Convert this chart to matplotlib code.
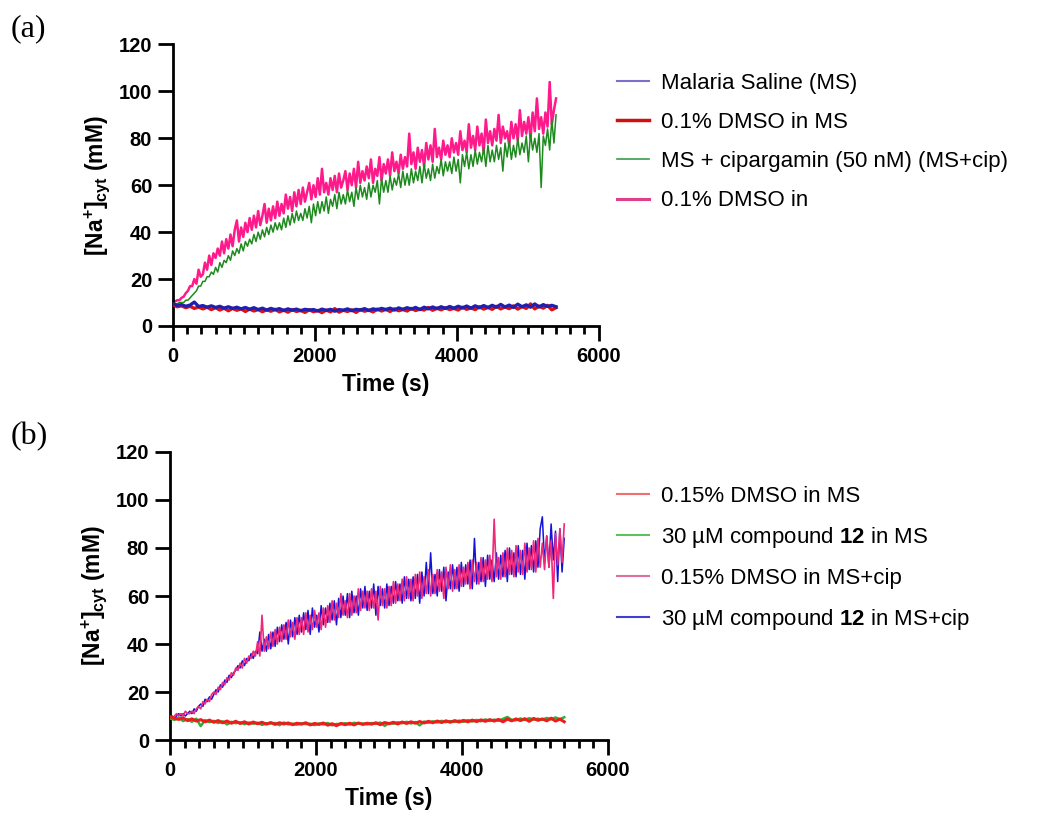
import numpy as np
import matplotlib
matplotlib.use("Agg")
import matplotlib.pyplot as plt
from matplotlib.ticker import MultipleLocator

plt.rcParams['font.family'] = ['Liberation Sans', 'DejaVu Sans']
plt.rcParams['mathtext.fontset'] = 'custom'
plt.rcParams['mathtext.rm'] = 'Liberation Sans'
plt.rcParams['mathtext.bf'] = 'Liberation Sans:bold'
plt.rcParams['mathtext.it'] = 'Liberation Sans:italic'

# sampling grids of the traces (s)
t_fine = np.arange(0, 5401, 30)     # rising traces
t_coarse = np.arange(0, 5401, 60)   # baseline traces

# ---- panel (a) ----
a_ms = [9.5, 8.8, 9.1, 8.4, 8.9, 10.2, 8.3, 8.7, 8.0, 8.6,
        7.9, 8.4, 7.6, 8.2, 7.5, 8.0, 7.3, 7.9, 7.1, 7.8,
        7.0, 7.6, 6.8, 7.5, 6.9, 7.4, 6.6, 7.3, 6.7, 7.2,
        6.5, 7.1, 6.8, 7.0, 6.4, 7.2, 6.6, 7.1, 6.3, 7.0,
        6.7, 7.3, 6.5, 7.1, 6.8, 7.4, 6.6, 7.3, 6.9, 7.5,
        7.0, 7.6, 6.8, 7.7, 7.1, 7.8, 7.2, 7.9, 7.0, 8.0,
        7.3, 8.1, 7.4, 8.2, 7.5, 8.3, 7.6, 8.4, 7.7, 8.5,
        7.6, 8.6, 7.8, 8.7, 7.9, 8.8, 8.0, 9.2, 8.1, 8.9,
        7.9, 9.3, 8.2, 9.0, 8.0, 9.4, 8.1, 9.1, 8.3, 8.8,
        8.2]
a_dmso = [9.0, 8.2, 8.6, 7.8, 8.4, 7.5, 8.1, 7.3, 8.0, 7.0,
          7.8, 6.8, 7.6, 6.5, 7.5, 6.7, 7.3, 6.2, 7.2, 6.4,
          7.0, 6.1, 6.9, 6.3, 7.1, 6.0, 6.8, 5.9, 7.0, 6.2,
          6.7, 5.8, 6.9, 6.1, 6.6, 5.7, 6.8, 6.0, 7.4, 5.9,
          6.7, 6.2, 6.9, 5.8, 7.0, 6.3, 6.8, 6.0, 7.2, 6.4,
          7.1, 6.2, 7.3, 6.5, 7.0, 6.4, 7.5, 6.6, 7.2, 6.8,
          7.9, 6.7, 7.6, 6.9, 7.8, 7.0, 7.5, 6.8, 8.0, 7.1,
          7.7, 7.0, 8.2, 7.2, 7.9, 7.1, 8.4, 7.3, 8.1, 7.4,
          8.6, 7.2, 8.3, 7.5, 9.4, 7.3, 8.5, 7.6, 8.8, 6.9,
          7.8]
a_cip = [9, 9, 9.5, 10, 10, 10, 11, 11, 12, 13,
         14, 15, 17, 17, 19, 19, 21, 21, 23, 22,
         25, 23, 27, 25, 28, 27, 30, 28, 32, 30,
         33, 31, 35, 32, 36, 34, 37, 35, 39, 36,
         40, 37, 41, 38, 42, 39, 43, 40, 44, 41,
         44, 41, 46, 42, 47, 43, 48, 44, 49, 45,
         48, 45, 50, 46, 51, 44, 52, 47, 53, 48,
         53, 49, 55, 48, 54, 51, 56, 50, 57, 52,
         56, 52, 58, 53, 57, 51, 59, 54, 60, 55,
         59, 54, 61, 55, 60, 57, 62, 52, 63, 57,
         62, 57, 64, 58, 63, 60, 65, 59, 66, 60,
         65, 60, 67, 61, 66, 62, 68, 61, 69, 63,
         67, 62, 69, 63, 68, 65, 71, 64, 70, 66,
         70, 65, 72, 66, 71, 61, 73, 68, 74, 67,
         73, 68, 75, 69, 74, 70, 76, 68, 77, 70,
         75, 70, 77, 71, 76, 66, 78, 72, 79, 71,
         77, 72, 80, 73, 78, 74, 81, 70, 82, 75,
         80, 74, 82, 59, 81, 77, 84, 75, 88, 78,
         90]
a_dmso_cip = [10, 10.5, 11, 11, 12, 12.5, 14, 15, 17, 17,
              20, 18, 24, 21, 22, 27, 24, 30, 26, 31,
              29, 33, 30, 36, 31, 37, 33, 39, 34, 41,
              45, 36, 42, 38, 44, 40, 46, 41, 47, 42,
              49, 43, 47, 52, 44, 50, 45, 51, 46, 53,
              47, 52, 48, 56, 50, 55, 49, 57, 51, 58,
              52, 59, 53, 57, 61, 54, 60, 55, 63, 56,
              67, 57, 61, 56, 63, 58, 64, 57, 65, 59,
              62, 66, 58, 65, 60, 67, 59, 70, 61, 66,
              62, 68, 63, 71, 61, 67, 64, 72, 62, 69,
              65, 71, 64, 74, 66, 70, 65, 73, 67, 72,
              68, 82, 69, 74, 67, 76, 70, 75, 68, 78,
              71, 77, 70, 84, 72, 76, 71, 79, 73, 77,
              72, 80, 74, 78, 73, 83, 75, 79, 74, 86,
              76, 81, 75, 85, 77, 82, 74, 88, 78, 83,
              77, 84, 79, 90, 78, 85, 80, 83, 77, 87,
              80, 86, 79, 92, 81, 87, 82, 89, 80, 91,
              83, 97, 84, 89, 82, 91, 85, 104, 86, 92,
              97]

# ---- panel (b) ----
b_dmso = [9.8, 9.0, 8.6, 9.2, 8.1, 8.8, 7.9, 8.5, 7.6, 8.3,
          7.4, 8.1, 7.2, 7.9, 7.0, 7.8, 6.9, 7.6, 6.7, 7.5,
          6.8, 7.4, 6.6, 7.3, 6.5, 7.2, 6.7, 7.1, 6.4, 7.0,
          6.6, 7.2, 6.3, 6.9, 6.5, 7.1, 6.2, 6.8, 6.0, 6.9,
          6.4, 7.0, 6.3, 7.1, 6.5, 7.0, 6.6, 7.2, 6.4, 7.3,
          6.8, 7.4, 6.7, 7.5, 6.9, 7.6, 7.0, 7.7, 7.1, 7.8,
          7.2, 7.9, 7.3, 8.0, 7.4, 8.1, 7.5, 8.2, 7.6, 8.3,
          7.7, 8.4, 7.8, 8.5, 7.9, 8.6, 7.6, 8.7, 8.0, 8.8,
          8.1, 8.9, 7.8, 9.0, 8.2, 8.8, 8.0, 9.1, 7.9, 8.7,
          7.6]
b_cpd12 = [9.0, 8.4, 9.3, 7.9, 8.7, 7.6, 8.9, 5.8, 8.3, 7.4,
           8.0, 7.1, 7.8, 6.5, 7.6, 7.0, 7.4, 6.6, 7.3, 6.8,
           7.2, 6.3, 7.0, 6.9, 7.1, 6.2, 7.3, 6.5, 6.8, 6.4,
           7.0, 6.6, 6.8, 6.2, 6.9, 6.5, 7.1, 6.1, 6.7, 6.6,
           7.0, 6.4, 7.2, 6.8, 6.9, 6.5, 7.1, 6.7, 7.3, 5.9,
           7.1, 6.8, 7.4, 7.0, 7.6, 6.9, 7.5, 6.1, 7.7, 7.2,
           7.8, 7.3, 8.0, 7.4, 7.9, 7.5, 8.1, 7.6, 8.3, 7.7,
           8.4, 7.8, 8.6, 7.9, 8.5, 8.0, 8.8, 9.6, 8.4, 8.2,
           9.0, 8.3, 9.1, 8.5, 8.9, 8.4, 9.2, 8.6, 9.4, 8.7,
           9.5]
b_dmso_cip = [10, 9, 10, 11, 10, 11, 10, 12, 11, 11,
              12, 11, 13, 14, 13, 16, 15, 17, 16, 19,
              20, 19, 22, 21, 24, 23, 26, 25, 28, 27,
              30, 29, 32, 30, 34, 32, 35, 34, 37, 35,
              41, 35, 52, 37, 43, 38, 45, 39, 46, 40,
              47, 41, 48, 42, 50, 43, 49, 42, 51, 44,
              51, 44, 53, 45, 52, 46, 54, 47, 53, 46,
              55, 47, 56, 49, 58, 50, 57, 51, 61, 52,
              58, 51, 61, 52, 60, 53, 63, 54, 62, 55,
              62, 54, 63, 55, 62, 50, 64, 56, 63, 55,
              64, 56, 66, 57, 65, 58, 67, 58, 68, 59,
              67, 58, 69, 60, 70, 59, 68, 61, 71, 60,
              69, 61, 71, 62, 70, 59, 72, 63, 73, 62,
              71, 63, 73, 64, 72, 65, 74, 63, 75, 66,
              74, 65, 76, 66, 75, 67, 77, 66, 92, 68,
              76, 67, 78, 68, 80, 69, 79, 68, 81, 70,
              79, 69, 82, 70, 80, 71, 83, 70, 84, 72,
              82, 71, 85, 72, 83, 59, 86, 73, 88, 74,
              90]
b_cpd12_cip = [9, 10, 9, 10, 11, 10, 11, 10, 11, 12,
               11, 13, 12, 14, 15, 14, 17, 16, 18, 17,
               19, 21, 20, 23, 22, 25, 24, 27, 26, 28,
               29, 31, 30, 33, 31, 34, 33, 36, 34, 37,
               36, 45, 37, 42, 37, 44, 38, 45, 39, 47,
               41, 48, 42, 49, 40, 50, 43, 51, 44, 52,
               45, 53, 46, 54, 44, 55, 47, 52, 45, 56,
               48, 55, 49, 57, 50, 58, 48, 59, 51, 60,
               52, 61, 51, 62, 53, 60, 52, 63, 55, 64,
               54, 62, 55, 65, 52, 64, 56, 63, 55, 65,
               56, 64, 57, 66, 58, 65, 57, 68, 59, 67,
               58, 68, 59, 69, 57, 70, 60, 74, 61, 78,
               61, 69, 60, 71, 62, 72, 58, 70, 63, 73,
               63, 72, 62, 74, 64, 73, 65, 75, 63, 84,
               65, 74, 66, 76, 64, 77, 67, 75, 66, 78,
               67, 77, 68, 79, 66, 80, 69, 78, 68, 81,
               69, 79, 67, 82, 71, 81, 70, 83, 72, 88,
               93, 74, 85, 72, 90, 75, 87, 66, 88, 70,
               84]

labels_a = ["Malaria Saline (MS)", "0.1% DMSO in MS",
            "MS + cipargamin (50 nM) (MS+cip)", "0.1% DMSO in"]
labels_b = ["0.15% DMSO in MS", r"30 µM compound $\mathbf{12}$ in MS",
            "0.15% DMSO in MS+cip", r"30 µM compound $\mathbf{12}$ in MS+cip"]


def style_axis(ax):
    ax.set_xlim(0, 6000)
    ax.set_ylim(0, 120)
    ax.xaxis.set_major_locator(MultipleLocator(2000))
    ax.xaxis.set_minor_locator(MultipleLocator(200))
    ax.yaxis.set_major_locator(MultipleLocator(20))
    for s in ["top", "right"]:
        ax.spines[s].set_visible(False)
    for s in ["left", "bottom"]:
        ax.spines[s].set_linewidth(2)
    ax.tick_params(which="major", length=11, width=2, labelsize=14.5)
    ax.tick_params(axis="x", which="major", pad=4)
    ax.tick_params(axis="y", which="major", pad=4)
    ax.tick_params(which="minor", length=6, width=2)
    for lab in ax.get_xticklabels() + ax.get_yticklabels():
        lab.set_fontweight("bold")
    ax.set_xlabel("Time (s)", fontsize=16.5, fontweight="bold", labelpad=5)
    ax.set_ylabel(r"[Na$\mathbf{^{+}}$]$\mathbf{_{cyt}}$ (mM)", fontsize=16.5,
                  fontweight="bold", labelpad=5)


leg_kw = dict(loc="upper left", frameon=False, fontsize=16, handlelength=1.45,
              handletextpad=0.55, labelspacing=0.82, borderpad=0, borderaxespad=0)

fig = plt.figure(figsize=(10.38, 8.16), dpi=100)

ax1 = fig.add_axes([0.1667, 0.6005, 0.41, 0.345])
ax1.plot(t_coarse, a_ms, color="#2020b0", lw=2.4, zorder=4)
ax1.plot(t_coarse, a_dmso, color="#e01010", lw=2.4, zorder=3)
ax1.plot(t_fine, a_dmso_cip, color="#ff1a8c", lw=1.8, zorder=1)
ax1.plot(t_fine, a_cip, color="#1e8a1e", lw=1.1, zorder=2)
style_axis(ax1)
h_a = [plt.Line2D([], [], color="#7a70c8", lw=1.5),
       plt.Line2D([], [], color="#d01010", lw=2.5),
       plt.Line2D([], [], color="#3a9a4a", lw=1.2),
       plt.Line2D([], [], color="#e0408a", lw=2.2)]
fig.legend(h_a, labels_a, bbox_to_anchor=(0.594, 0.911), **leg_kw)

ax2 = fig.add_axes([0.1638, 0.0931, 0.422, 0.353])
ax2.plot(t_coarse, b_cpd12, color="#30b030", lw=1.8, zorder=3)
ax2.plot(t_coarse, b_dmso, color="#ee1c1c", lw=2.2, zorder=4)
ax2.plot(t_fine, b_cpd12_cip, color="#1414d8", lw=1.1, zorder=1)
ax2.plot(t_fine, b_dmso_cip, color="#f0287a", lw=1.2, zorder=2)
style_axis(ax2)
h_b = [plt.Line2D([], [], color="#f07070", lw=1.5),
       plt.Line2D([], [], color="#60c060", lw=1.5),
       plt.Line2D([], [], color="#e070a0", lw=1.5),
       plt.Line2D([], [], color="#4040d0", lw=1.5)]
fig.legend(h_b, labels_b, bbox_to_anchor=(0.594, 0.405), **leg_kw)

fig.text(0.01, 0.965, "(a)", fontsize=23, family=["Liberation Serif"], va="center")
fig.text(0.01, 0.465, "(b)", fontsize=23, family=["Liberation Serif"], va="center")

fig.savefig("out.png", dpi=100)
